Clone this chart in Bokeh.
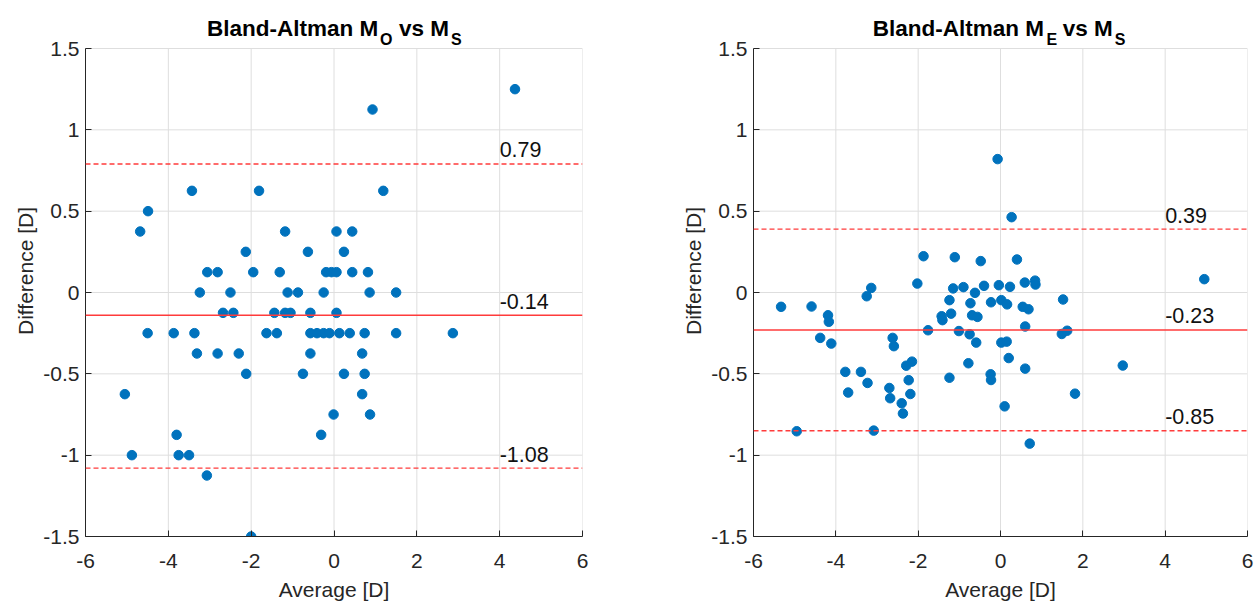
from bokeh.plotting import figure
from bokeh.models import Range1d, FixedTicker, Label, Span
from bokeh.layouts import row
from bokeh.embed import file_html
from bokeh.resources import INLINE

# ---------------- data ----------------
left_avg = [-4.68, -4.49, -3.43, -3.24, -3.06, -2.81, -2.68, -2.50, -2.43, -2.13,
            -1.95, -1.81, -1.44, -1.31, -1.18, -1.18, -1.12, -1.05, -0.87, -0.63,
            -0.57, -0.25, -0.19, -0.06, 0.06, 0.44, 0.82, 0.06, 0.44, 0.24,
            0.86, 1.50, 0.06, 4.37, 0.93, 1.19, -4.50, -3.87, -3.37, -3.31,
            -2.81, -2.30, -2.12, -5.05, -4.88, -3.80, -3.75, -3.50, -3.07, -2.00,
            -1.63, -1.38, -0.57, -0.41, -0.25, -0.11, 0.13, 0.38, 0.74, 1.50,
            2.87, -0.57, -0.75, -0.31, 0.68, 0.24, 0.74, 0.68, -0.01, 0.87]
left_diff = [0.375, 0.5, 0.625, 0.0, 0.125, 0.125, -0.125, 0.0, -0.125, 0.25,
             0.125, 0.625, -0.125, 0.125, 0.375, -0.125, 0.0, -0.125, 0.0, 0.25,
             -0.125, 0.0, 0.125, 0.125, 0.125, 0.125, 0.125, 0.375, 0.375, 0.25,
             0.0, 0.0, -0.125, 1.25, 1.125, 0.625, -0.25, -0.25, -0.25, -0.375,
             -0.375, -0.375, -0.5, -0.625, -1.0, -0.875, -1.0, -1.0, -1.125, -1.5,
             -0.25, -0.25, -0.25, -0.25, -0.25, -0.25, -0.25, -0.25, -0.25, -0.25,
             -0.25, -0.375, -0.5, -0.875, -0.375, -0.5, -0.5, -0.625, -0.75, -0.75]

right_avg = [-0.07, -1.87, -1.11, -0.48, 0.40, 0.27, -2.02, -3.14, -3.25, -1.15,
             -0.90, -0.62, -0.40, -0.04, 0.23, 0.59, 0.84, 0.85, 4.95, -1.24,
             -0.73, -0.23, 0.02, 0.16, 0.54, 0.68, 1.52, -5.33, -4.59, -4.19,
             -4.17, -1.43, -1.41, -1.20, -0.69, -0.56, -4.38, -4.11, -3.77, -3.39,
             -3.70, -3.23, -4.95, -3.08, -2.62, -2.59, -2.70, -2.68, -2.40, -2.37,
             -2.29, -2.15, -2.23, -2.19, -1.76, -1.01, -0.75, -0.59, -0.78, -1.24,
             -0.24, -0.23, 0.60, 1.49, 1.62, 0.02, 0.15, 0.20, 0.60, 2.97,
             1.81, 0.10, 0.71]
right_diff = [0.82, 0.223, 0.217, 0.193, 0.203, 0.463, 0.055, 0.028, -0.023, 0.025,
              0.033, -0.002, 0.041, 0.045, 0.035, 0.061, 0.073, 0.049, 0.082, -0.047,
              -0.066, -0.06, -0.047, -0.073, -0.088, -0.103, -0.043, -0.088, -0.086, -0.14,
              -0.18, -0.146, -0.17, -0.13, -0.14, -0.15, -0.279, -0.314, -0.488, -0.488,
              -0.615, -0.556, -0.853, -0.849, -0.279, -0.33, -0.587, -0.65, -0.681, -0.744,
              -0.45, -0.425, -0.539, -0.624, -0.232, -0.237, -0.257, -0.308, -0.435, -0.524,
              -0.503, -0.538, -0.209, -0.255, -0.235, -0.308, -0.302, -0.403, -0.468, -0.449,
              -0.622, -0.70, -0.929]

left_bias, left_upper, left_lower = -0.14, 0.79, -1.08
right_bias, right_upper, right_lower = -0.23, 0.39, -0.85

x_ticks = [-6, -4, -2, 0, 2, 4, 6]
x_tick_labels = ["-6", "-4", "-2", "0", "2", "4", "6"]
y_ticks = [-1.5, -1, -0.5, 0, 0.5, 1, 1.5]
y_tick_labels = ["-1.5", "-1", "-0.5", "0", "0.5", "1", "1.5"]

left_title = ("Bland-Altman M", "O", "vs M", "S")
right_title = ("Bland-Altman M", "E", "vs M", "S")

# ---------------- styling ----------------
FONT = "Liberation Sans"
AX = "#262626"
GRID = "#dedede"
DOT = "#0072BD"
RED = "#ff3b3b"
X0, X1, Y0, Y1 = -6, 6, -1.5, 1.5
AXES_H = 488          # pixel height of the axes box
TOP_PAD = 43          # room for the title inside the frame, above y = 1.5
PXY = AXES_H / (Y1 - Y0)
Y_TOP = Y1 + TOP_PAD / PXY


def make(avg, diff, bias, upper, lower, title, offs, fw, bl, br):
    pxx = fw / (X1 - X0)
    p = figure(frame_width=fw, frame_height=AXES_H + TOP_PAD, title=None,
               x_range=Range1d(X0, X1), y_range=Range1d(Y0, Y_TOP),
               output_backend="svg", toolbar_location=None,
               min_border_left=bl, min_border_right=br,
               min_border_top=5, min_border_bottom=60)
    p.background_fill_color = "white"
    p.border_fill_color = "white"
    p.outline_line_color = None
    p.grid.visible = False

    # grid lines (including the box edges at the limits), from the tick arrays
    p.segment(x0=x_ticks, y0=[Y0] * len(x_ticks), x1=x_ticks, y1=[Y1] * len(x_ticks),
              line_color=GRID, line_width=1)
    p.segment(x0=[X0] * len(y_ticks), y0=y_ticks, x1=[X1] * len(y_ticks), y1=y_ticks,
              line_color=GRID, line_width=1)

    for ax, ticks, labs in ((p.xaxis[0], x_ticks, x_tick_labels),
                            (p.yaxis[0], y_ticks, y_tick_labels)):
        ax.ticker = FixedTicker(ticks=ticks)
        ax.major_label_overrides = {t: l for t, l in zip(ticks, labs)}
        ax.axis_line_color = AX
        ax.major_tick_line_color = AX
        ax.major_tick_in = 6
        ax.major_tick_out = 0
        ax.minor_tick_line_color = None
        ax.major_label_text_font = FONT
        ax.major_label_text_font_size = "21px"
        ax.major_label_text_color = AX
        ax.axis_label_text_font = FONT
        ax.axis_label_text_font_size = "21px"
        ax.axis_label_text_font_style = "normal"
        ax.axis_label_text_color = AX
    p.yaxis[0].bounds = (Y0, Y1)

    p.xaxis.axis_label = "Average [D]"
    p.yaxis.axis_label = "Difference [D]"
    p.xaxis.major_label_standoff = 17
    p.xaxis.axis_label_standoff = 7
    p.yaxis.major_label_standoff = 6
    p.yaxis.axis_label_standoff = 3

    p.add_layout(Span(location=bias, dimension="width", line_color=RED, line_width=1.5))
    for v in (upper, lower):
        p.add_layout(Span(location=v, dimension="width", line_color=RED,
                          line_width=1.3, line_dash="5 3"))

    p.scatter(avg, diff, size=9.5, color=DOT, line_color=DOT)

    for v in (upper, bias, lower):
        p.add_layout(Label(x=4, y=v + 14 / PXY, text=f"{v:.2f}",
                           text_font=FONT, text_font_size="21.5px", text_color="#111111",
                           text_align="left", text_baseline="alphabetic"))

    # title with subscripts
    main, sub1, mid, sub2 = title
    for txt, off, up, size in ((main, offs[0], 20, "22.5px"), (sub1, offs[1], 9, "16px"),
                               (mid, offs[2], 20, "22.5px"), (sub2, offs[3], 9, "16px")):
        p.add_layout(Label(x=X0 + off / pxx, y=Y1 + up / PXY, text=txt, text_font=FONT,
                           text_font_style="bold", text_font_size=size,
                           text_color="#000000", text_align="left",
                           text_baseline="alphabetic"))
    return p


p1 = make(left_avg, left_diff, left_bias, left_upper, left_lower, left_title,
          (121.5, 294.5, 313.5, 365.5), 497, 85, 58)
p2 = make(right_avg, right_diff, right_bias, right_upper, right_lower, right_title,
          (119.3, 292.9, 309.3, 361.3), 494, 113, 8)

layout = row(p1, p2)
open("out.html", "w").write(file_html(layout, INLINE))
